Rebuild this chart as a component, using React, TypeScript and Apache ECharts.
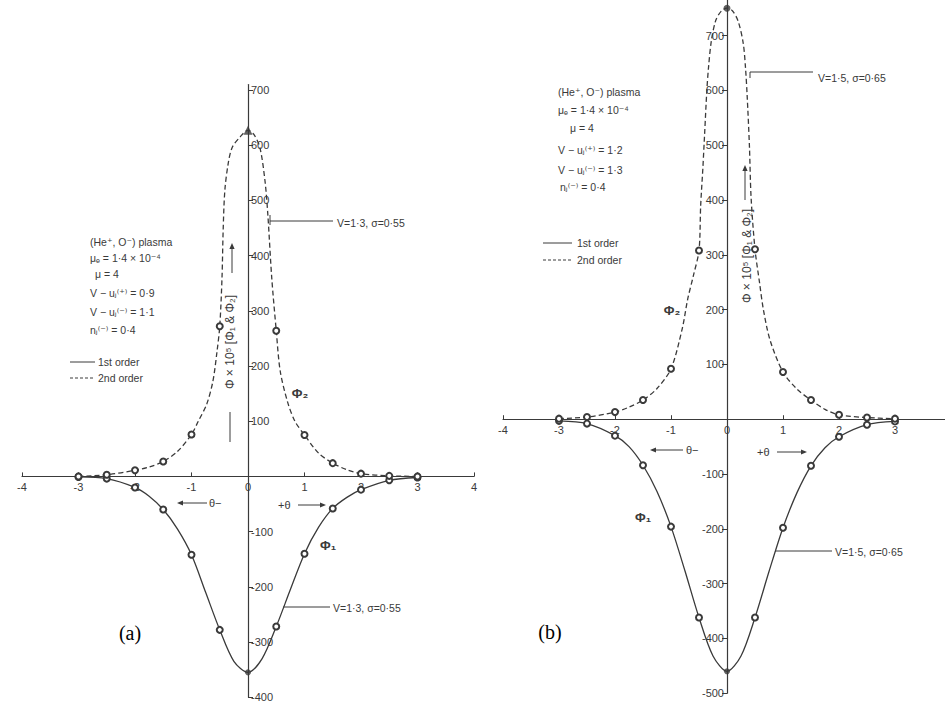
import React, { useEffect, useRef } from "react";
import * as echarts from "echarts";

// ---- Panel (a): V = 1.3, sigma = 0.55 ----
const thetaA1 = [-3, -2.5, -2, -1.75, -1.5, -1.25, -1, -0.75, -0.5, -0.25, 0, 0.25, 0.5, 0.75, 1, 1.25, 1.5, 1.75, 2, 2.5, 3];
const phi1A = [-1, -4, -20, -36, -60, -95, -142, -210, -278, -335, -355, -330, -272, -205, -140, -92, -58, -38, -24, -7, -2];

const thetaA2 = [-3, -2.5, -2, -1.75, -1.5, -1.25, -1, -0.88, -0.73, -0.62, -0.55, -0.5, -0.46, -0.44, -0.41, -0.35, -0.28, -0.14, 0, 0.1, 0.21, 0.3, 0.35, 0.42, 0.5, 0.57, 0.7, 0.83, 1, 1.25, 1.5, 1.75, 2, 2.5, 3];
const phi2A = [0, 3, 11, 17, 27, 45, 76, 100, 131, 173, 225, 272, 360, 445, 518, 567, 596, 615, 627, 620, 596, 536, 476, 360, 264, 191, 135, 100, 75, 42, 24, 12, 5, 1, 0];

// ---- Panel (b): V = 1.5, sigma = 0.65 ----
const thetaB1 = [-3, -2.5, -2, -1.75, -1.5, -1.25, -1, -0.75, -0.5, -0.25, 0, 0.25, 0.5, 0.75, 1, 1.25, 1.5, 1.75, 2, 2.5, 3];
const phi1B = [-3, -8, -30, -50, -84, -132, -196, -277, -362, -432, -460, -432, -362, -278, -198, -134, -85, -52, -32, -10, -4];

const thetaB2 = [-3, -2.5, -2, -1.75, -1.5, -1.25, -1, -0.8, -0.7, -0.6, -0.5, -0.47, -0.43, -0.4, -0.36, -0.33, -0.28, -0.2, -0.1, 0, 0.1, 0.2, 0.29, 0.33, 0.36, 0.4, 0.43, 0.5, 0.58, 0.65, 0.77, 1, 1.25, 1.5, 1.75, 2, 2.5, 3];
const phi2B = [1, 4, 13, 22, 35, 56, 92, 165, 220, 262, 308, 390, 460, 520, 600, 642, 690, 728, 745, 750, 745, 726, 686, 642, 590, 500, 405, 310, 250, 200, 144, 86, 55, 35, 18, 8, 3, 1];

// ---- Axis ticks ----
const xTicks = [-4, -3, -2, -1, 0, 1, 2, 3, 4];
const yTicksA = [-400, -300, -200, -100, 100, 200, 300, 400, 500, 600, 700];
const yTicksB = [-500, -400, -300, -200, -100, 100, 200, 300, 400, 500, 600, 700];

const INK = "#3a3a3a";
const FONT = "Liberation Sans, DejaVu Sans, sans-serif";

// panel frames: axis extents and grid rectangles
const panels = [
  { xMin: -4, xMax: 4, yMin: -400, yMax: 710, left: 22, top: 84.5, width: 452, height: 612.7, ticks: yTicksA, inside: true },
  { xMin: -4, xMax: 4, yMin: -500, yMax: 765, left: 503, top: 0, width: 448, height: 693.2, ticks: yTicksB, inside: false },
];

const isMark = (t: number) => t !== 0 && Math.abs(t * 2 - Math.round(t * 2)) < 1e-9;

const curve = (idx: number, xs: number[], ys: number[], dashed: boolean) => ({
  type: "line",
  xAxisIndex: idx,
  yAxisIndex: idx,
  data: xs.map((x, i) =>
    isMark(x)
      ? { value: [x, ys[i]], symbol: "emptyCircle", symbolSize: 6 }
      : { value: [x, ys[i]], symbol: "none", symbolSize: 0 }
  ),
  smooth: 0.3,
  showSymbol: true,
  showAllSymbol: true,
  symbol: "none",
  itemStyle: { color: INK, borderColor: INK, borderWidth: 1.4 },
  lineStyle: { color: INK, width: 1.3, type: dashed ? [5, 3] : "solid" },
  z: 3,
});

const peak = (idx: number, xs: number[], ys: number[], symbol: string, size: number) => ({
  type: "scatter",
  xAxisIndex: idx,
  yAxisIndex: idx,
  data: [[0, ys[xs.indexOf(0)]]],
  symbol,
  symbolSize: size,
  itemStyle: { color: INK },
  z: 4,
});

const txt = (x: number, y: number, text: string, size = 10.5, extra: any = {}) => ({
  type: "text",
  x,
  y,
  style: { text, fontSize: size, fontFamily: FONT, fill: INK, verticalAlign: "middle", ...extra },
});

const seg = (x1: number, y1: number, x2: number, y2: number, dash?: number[]) => ({
  type: "line",
  shape: { x1, y1, x2, y2 },
  style: { stroke: INK, lineWidth: 1, lineDash: dash },
});

// straight arrow with a filled head at (x2, y2)
const arrow = (x1: number, y1: number, x2: number, y2: number) => {
  const a = Math.atan2(y2 - y1, x2 - x1);
  const h = 6;
  const w = 2.6;
  const bx = x2 - h * Math.cos(a);
  const by = y2 - h * Math.sin(a);
  return {
    type: "group",
    children: [
      seg(x1, y1, bx, by),
      {
        type: "polygon",
        shape: {
          points: [
            [x2, y2],
            [bx + w * Math.sin(a), by - w * Math.cos(a)],
            [bx - w * Math.sin(a), by + w * Math.cos(a)],
          ],
        },
        style: { fill: INK },
      },
    ],
  };
};

// x axis drawn through y = 0, y axis through x = 0 (via offsets into the grid)
const xAxisFor = (idx: number) => {
  const p = panels[idx];
  return {
    type: "value",
    gridIndex: idx,
    min: p.xMin,
    max: p.xMax,
    interval: 1,
    offset: -(p.height * (0 - p.yMin)) / (p.yMax - p.yMin),
    axisLine: { onZero: false, lineStyle: { color: INK, width: 1.2 } },
    axisTick: { show: true, inside: true, length: 4, customValues: xTicks, lineStyle: { color: INK } },
    axisLabel: { color: INK, fontSize: 11, fontFamily: FONT, margin: 5, customValues: xTicks },
    splitLine: { show: false },
  };
};

const yAxisFor = (idx: number) => {
  const p = panels[idx];
  return {
    type: "value",
    gridIndex: idx,
    min: p.yMin,
    max: p.yMax,
    offset: -(p.width * (0 - p.xMin)) / (p.xMax - p.xMin),
    axisLine: { onZero: false, lineStyle: { color: INK, width: 1.2 } },
    axisTick: { show: true, inside: p.inside, length: 5, customValues: p.ticks, lineStyle: { color: INK } },
    axisLabel: { color: INK, fontSize: 11, fontFamily: FONT, inside: p.inside, margin: 3, customValues: p.ticks },
    splitLine: { show: false },
  };
};

const graphics: any[] = [
  // panel (a) parameters
  txt(90, 242, "(He⁺, O⁻) plasma"),
  txt(90, 258, "μₑ = 1·4 × 10⁻⁴"),
  txt(95, 274, "μ = 4"),
  txt(90, 293, "V − uⱼ⁽⁺⁾ = 0·9"),
  txt(90, 312, "V − uⱼ⁽⁻⁾ = 1·1"),
  txt(90, 330, "nⱼ⁽⁻⁾ = 0·4"),
  seg(70, 362, 95, 362),
  txt(98, 362, "1st order"),
  seg(70, 378, 95, 378, [3, 2]),
  txt(98, 378, "2nd order"),
  // panel (a) annotations
  seg(270, 221, 333, 221),
  seg(270, 215, 270, 225),
  txt(337, 223, "V=1·3, σ=0·55"),
  seg(283, 607, 330, 607),
  txt(333, 608, "V=1·3, σ=0·55"),
  txt(300, 393, "Φ₂", 13, { align: "center", fontWeight: "bold" }),
  txt(328, 545, "Φ₁", 13, { align: "center", fontWeight: "bold" }),
  arrow(207, 503, 177, 503),
  txt(209, 503, "θ−", 11),
  txt(278, 505, "+θ", 11),
  arrow(298, 505, 326, 505),
  {
    type: "text",
    x: 230,
    y: 342,
    rotation: Math.PI / 2,
    style: { text: "Φ × 10⁵ [Φ₁ & Φ₂]", fontSize: 12, fontFamily: FONT, fill: INK, align: "center", verticalAlign: "middle" },
  },
  arrow(232, 273, 232, 243),
  seg(230, 442, 230, 412),
  txt(130, 633, "(a)", 20, { align: "center", fontFamily: "Liberation Serif, serif", fill: "#000" }),

  // panel (b) parameters
  txt(558, 92, "(He⁺, O⁻) plasma"),
  txt(558, 110, "μₑ = 1·4 × 10⁻⁴"),
  txt(570, 128, "μ = 4"),
  txt(558, 150, "V − uⱼ⁽⁺⁾ = 1·2"),
  txt(558, 170, "V − uⱼ⁽⁻⁾ = 1·3"),
  txt(560, 187, "nⱼ⁽⁻⁾ = 0·4"),
  seg(543, 243, 572, 243),
  txt(577, 243, "1st order"),
  seg(543, 260, 572, 260, [3, 2]),
  txt(577, 260, "2nd order"),
  // panel (b) annotations
  seg(750, 72, 813, 72),
  seg(750, 72, 750, 78),
  txt(818, 78, "V=1·5, σ=0·65"),
  seg(775, 551, 832, 551),
  txt(835, 552, "V=1·5, σ=0·65"),
  txt(672, 310, "Φ₂", 13, { align: "center", fontWeight: "bold" }),
  txt(643, 517, "Φ₁", 13, { align: "center", fontWeight: "bold" }),
  arrow(683, 450, 650, 450),
  txt(686, 450, "θ−", 11),
  txt(757, 452, "+θ", 11),
  arrow(777, 452, 807, 452),
  {
    type: "text",
    x: 747,
    y: 256,
    rotation: Math.PI / 2,
    style: { text: "Φ × 10⁵ [Φ₁ & Φ₂]", fontSize: 12, fontFamily: FONT, fill: INK, align: "center", verticalAlign: "middle" },
  },
  arrow(745, 200, 745, 165),
  txt(550, 632, "(b)", 20, { align: "center", fontFamily: "Liberation Serif, serif", fill: "#000" }),
];

export default function App() {
  const ref = useRef<HTMLDivElement>(null);

  useEffect(() => {
    if (!ref.current) return;
    const chart = echarts.init(ref.current, null, { renderer: "svg" });
    chart.setOption({
      animation: false,
      backgroundColor: "#ffffff",
      grid: panels.map((p) => ({
        left: p.left,
        top: p.top,
        width: p.width,
        height: p.height,
        containLabel: false,
        outerBoundsMode: "none",
      })),
      xAxis: [xAxisFor(0), xAxisFor(1)],
      yAxis: [yAxisFor(0), yAxisFor(1)],
      series: [
        curve(0, thetaA1, phi1A, false),
        curve(0, thetaA2, phi2A, true),
        peak(0, thetaA2, phi2A, "triangle", 9),
        peak(0, thetaA1, phi1A, "circle", 6),
        curve(1, thetaB1, phi1B, false),
        curve(1, thetaB2, phi2B, true),
        peak(1, thetaB2, phi2B, "circle", 7),
        peak(1, thetaB1, phi1B, "circle", 6),
      ],
      graphic: graphics,
    });
    return () => chart.dispose();
  }, []);

  return (
    <div
      ref={ref}
      style={{ position: "fixed", left: 0, top: 0, width: 945, height: 708, background: "#fff" }}
    />
  );
}
